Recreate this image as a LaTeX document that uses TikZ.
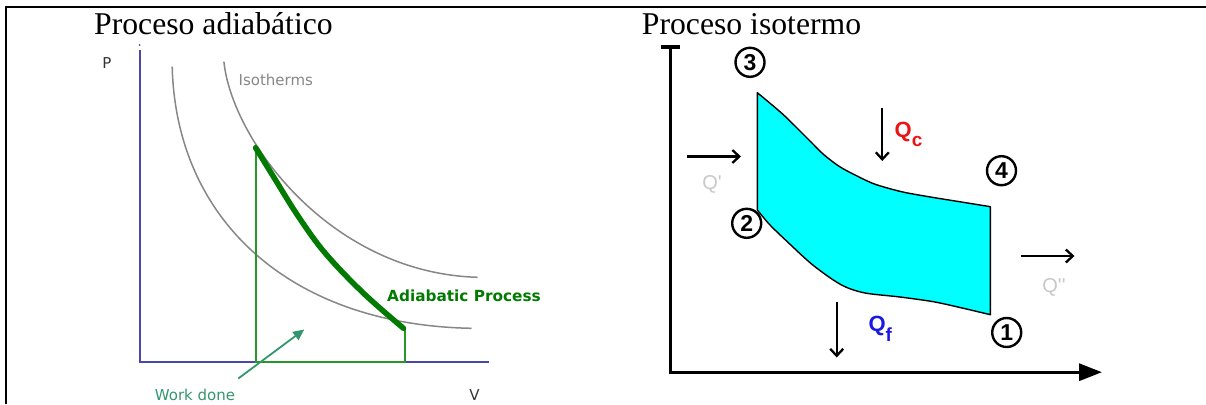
\documentclass[tikz,border=0pt]{standalone}
\usepackage{fontspec}
\setmainfont{Liberation Serif}
\newfontfamily\verd{DejaVu Sans}
\newfontfamily\arial{Liberation Sans}
\usetikzlibrary{arrows.meta}
\definecolor{axblue}{RGB}{72,72,168}
\definecolor{isogray}{RGB}{135,135,135}
\definecolor{adgreen}{RGB}{0,122,0}
\definecolor{thingreen}{RGB}{40,150,40}
\definecolor{wdteal}{RGB}{51,150,110}
\definecolor{qgray}{RGB}{200,200,200}
\definecolor{qred}{RGB}{235,20,20}
\definecolor{qblue}{RGB}{25,25,225}
\definecolor{fillcyan}{RGB}{0,255,255}
\tikzset{
  title/.style={anchor=base west, inner sep=0, font=\fontsize{31.7}{36}\selectfont},
  smalllbl/.style={inner sep=0, font=\verd\fontsize{15}{17}\selectfont},
  circnum/.style={circle, draw=black, line width=2.4pt, inner sep=0, minimum size=29pt,
    font=\arial\bfseries\fontsize{23}{23}\selectfont},
  harrow/.style={draw=black, line width=2.3pt, -{Straight Barb[length=7pt,width=13pt]}},
  qlbl/.style={anchor=base west, inner sep=0, font=\arial\bfseries\fontsize{22}{22}\selectfont},
  qglbl/.style={inner sep=0, text=qgray, font=\arial\fontsize{20}{20}\selectfont},
}
\begin{document}
\begin{tikzpicture}[x=1pt,y=-1pt]
\useasboundingbox (0,0) rectangle (1206,404);
% frame
\coordinate (fb) at (5.7,404);
\coordinate (fc) at (5.7,6.7);
\coordinate (fr) at (1206,6.7);
\draw[line width=2pt] (fb) -- (fc) -- (fr);

% ---------- left: adiabatic ----------
\node[title] (t1) at (94,35) {Proceso adiabático};
\coordinate (ltop) at (139.7,50);
\coordinate (lorig) at (139.7,362.3);
\coordinate (lright) at (488.7,362.3);
\fill[axblue] (139.7,45) circle (1);
\draw[axblue, line width=1.9pt] (ltop) -- (lorig) -- (lright);

\draw[isogray, line width=1.5pt] (172.2,66.7) .. controls (176,220) and (290,325) .. (471.5,328.3);
\draw[isogray, line width=1.5pt] (223.9,61.7) .. controls (232,140) and (330,273) .. (477.6,277.3);

\coordinate (ga) at (255.6,147.7);
\coordinate (gb) at (403.5,328.3);
\coordinate (ga0) at (255.6,362.3);
\coordinate (gb0) at (404.9,362.3);
\draw[thingreen, line width=1.9pt] (ga) -- (ga0) -- (gb0) -- (404.9,328.3);
\draw[adgreen, line width=5.5pt, line cap=round] plot[smooth, tension=0.6] coordinates {
  (255.6,147.7) (275.5,180) (298.5,216.7) (325.3,253.3) (363.6,293.3) (403.5,328.3)};

\node[smalllbl, text=black!80] (P) at (107,63) {P};
\node[smalllbl, text=black!80] (V) at (474.5,395) {V};
\node[smalllbl, text=isogray] (iso) at (275.8,80) {Isotherms};
\node[smalllbl, text=adgreen, font=\verd\bfseries\fontsize{15.3}{17}\selectfont] (adp) at (464,295.5) {Adiabatic Process};
\node[smalllbl, text=wdteal] (wd) at (195,395) {Work done};
\coordinate (wdt) at (238.3,378.5);
\coordinate (wdh) at (304.2,329.5);
\draw[wdteal, line width=1.8pt, -{Triangle[length=11pt,width=10pt]}] (wdt) -- (wdh);

% ---------- right: isothermal ----------
\node[title] (t2) at (641.7,35) {Proceso isotermo};
\coordinate (rtop) at (670.5,47);
\coordinate (rorig) at (670.5,372.2);
\coordinate (rend) at (1102,372.2);
\draw[line width=4pt] (660.5,47) -- (679.5,47);
\draw[line width=3.2pt, -{Triangle[length=23pt,width=17pt]}] (rtop) -- (rorig) -- (rend);

\filldraw[fill=fillcyan, draw=black, line width=1.4pt, line join=round]
  plot[smooth, tension=0.5] coordinates {
  (757.3,92.7) (770.1,103.3) (785.5,116.7) (810.7,141.7) (824.2,155) (839.7,166.7)
  (855.1,175) (874.4,184) (901.5,191.7) (928.6,196.7) (959.5,201.7) (990.4,206.7)}
  -- plot[smooth, tension=0.5] coordinates {
  (990.4,314.7) (960,307.5) (933.3,301.7) (900,297) (866.7,293.3) (848,288)
  (833.3,280) (810.7,263.3) (785.5,240) (770,225) (757.3,210)} -- cycle;

\node[circnum] (n3) at (750,62.3) {3};
\node[circnum] (n2) at (746.7,223.3) {2};
\node[circnum] (n4) at (1001.5,170.7) {4};
\node[circnum] (n1) at (1006.7,332.5) {1};

\coordinate (a1s) at (687,156.5);
\coordinate (a1e) at (741,156.5);
\draw[harrow] (a1s) -- (a1e);
\coordinate (a2s) at (882.3,107.5);
\coordinate (a2e) at (882.3,161);
\draw[harrow] (a2s) -- (a2e);
\coordinate (a3s) at (836.7,302);
\coordinate (a3e) at (836.7,357.5);
\draw[harrow] (a3s) -- (a3e);
\coordinate (a4s) at (1020.7,256);
\coordinate (a4e) at (1074.5,256);
\draw[harrow] (a4s) -- (a4e);

\node[qglbl] (qp) at (712,184) {Q\textquotesingle};
\node[qglbl] (qpp) at (1054,287) {Q\textquotesingle\textquotesingle};
\node[qlbl, text=qred] (qc) at (894.5,137) {Q\raisebox{-9pt}{\fontsize{19}{19}\selectfont c}};
\node[qlbl, text=qblue] (qf) at (868.3,331.5) {Q\raisebox{-10pt}{\fontsize{19}{19}\selectfont f}};
\end{tikzpicture}
\end{document}
